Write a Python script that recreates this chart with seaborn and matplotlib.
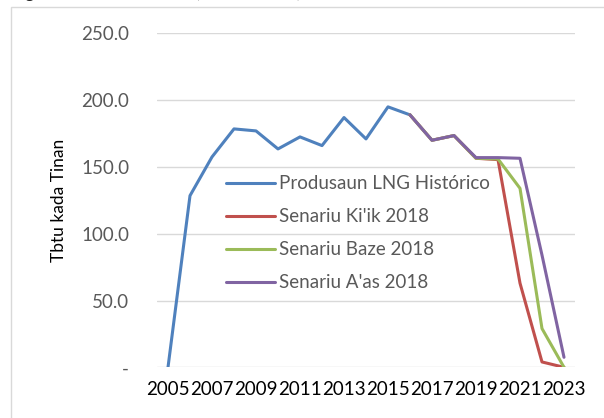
# LNG production: historic and 2018 scenarios
import pandas as pd
import seaborn as sns
import matplotlib.pyplot as plt
from matplotlib.patches import Rectangle

years_hist = list(range(2005, 2017))
hist = [0, 128.5, 157.5, 178.5, 177, 163.5, 172.5, 166, 187, 171, 195, 189]

years_scn = list(range(2016, 2024))
low = [189, 170, 173.5, 156.5, 155.5, 63, 4, 0]
base = [189, 170, 173.5, 156.5, 156, 134, 29, 0]
high = [189, 170, 173.5, 157, 157, 156.5, 84, 7.5]

labels = ["Produsaun LNG Histórico", "Senariu Ki'ik 2018", "Senariu Baze 2018", "Senariu A'as 2018"]
colors = ["#4F81BD", "#C0504D", "#9BBB59", "#8064A2"]
xticks = list(range(2005, 2024, 2))
yticks = [0, 50, 100, 150, 200, 250]
ytick_labels = ["-", "50.0", "100.0", "150.0", "200.0", "250.0"]

sns.set_style("white")
plt.rcParams['font.family'] = ['Lato', 'DejaVu Sans']

fig = plt.figure(figsize=(6.04, 4.18), dpi=100)
ax = fig.add_axes([157 / 604, 1 - 367.3 / 418, 418 / 604, 333.9 / 418])

series = [(years_hist, hist), (years_scn, low), (years_scn, base), (years_scn, high)]
for (xs, ys), lab, col in zip(series, labels, colors):
    df = pd.DataFrame({'year': xs, 'value': ys})
    sns.lineplot(data=df, x='year', y='value', ax=ax, color=col, label=lab,
                 linewidth=2.2, sort=False, estimator=None)

ax.set_xlim(2004.5, 2023.5)
ax.set_ylim(0, 250)
ax.set_xticks(xticks)
ax.set_xticklabels([str(y) for y in xticks], fontsize=13.5, color='black')
ax.set_yticks(yticks)
ax.set_yticklabels(ytick_labels, fontsize=13.5, color='#595959')
ax.tick_params(axis='y', length=0, pad=20)
ax.tick_params(axis='x', length=0, pad=10)
ax.yaxis.grid(True, color='#D9D9D9', linewidth=1)
ax.set_axisbelow(True)
for s in ax.spines.values():
    s.set_visible(False)
ax.set_xlabel("")
ax.set_ylabel("Tbtu kada Tinan", fontsize=12.5, color='black', labelpad=10)

ax.legend(loc='center left', bbox_to_anchor=(0.165, 0.401), frameon=False,
          fontsize=13.5, labelcolor='#595959', handlelength=2.6,
          handletextpad=0.25, labelspacing=0.85, borderpad=0, borderaxespad=0)

# outer chart border
fig.patches.append(Rectangle((11 / 604, -0.05), 1.1, 1 - 7 / 418 + 0.05,
                             transform=fig.transFigure, fill=False,
                             edgecolor='#D9D9D9', linewidth=1))

# title, cut off at the top edge as in the source image
fig.text(12 / 604, 1 + 1.5 / 418, "Figura 4: Produsaun LNG, Senariu Ki'ik, Baze no A'as 2018",
         fontsize=12, fontweight='bold', va='baseline', ha='left')

fig.savefig("out.png", dpi=100)
